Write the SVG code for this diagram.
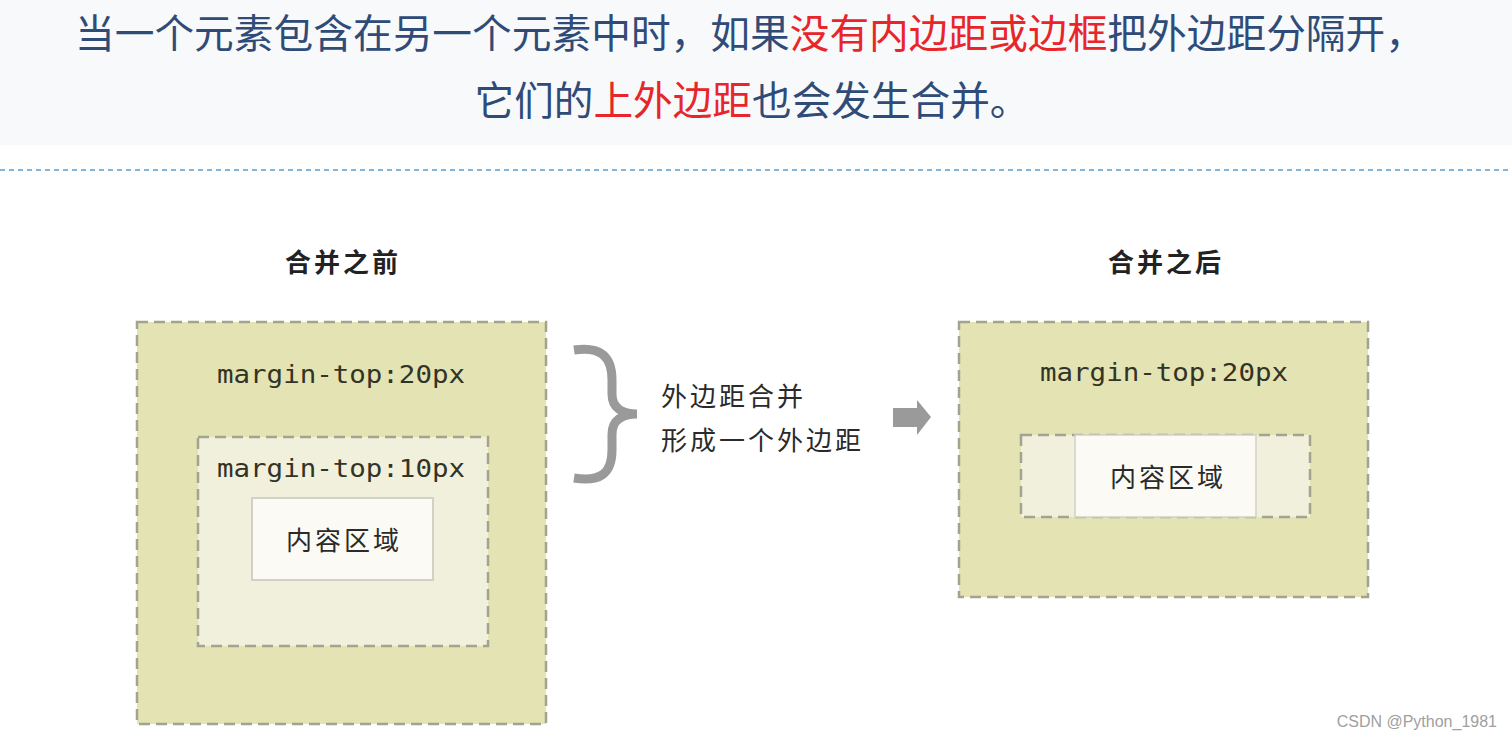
<svg xmlns="http://www.w3.org/2000/svg" width="1512" height="741" viewBox="0 0 1512 741">
<style>
.hd{font-family:"Noto Sans CJK SC","Liberation Sans",sans-serif;font-size:40px;fill:#2f4b78;}
.red{fill:#e8262a;}
.outer{fill:#e3e3b4;stroke:#a3a390;stroke-width:2.5;stroke-dasharray:11 6;}
.inner{fill:#f1f0dc;stroke:#a3a390;stroke-width:2.5;stroke-dasharray:11 6;}
.content{fill:#fbfaf5;stroke:#d2d1c6;stroke-width:2;}
.mono{font-family:"DejaVu Sans Mono","Liberation Mono",monospace;font-size:24px;fill:#333326;}
.cn{font-family:"Noto Sans CJK SC",sans-serif;font-size:26px;fill:#2a2a2a;letter-spacing:3px;}
.title{font-family:"Noto Sans CJK SC",sans-serif;font-size:26px;font-weight:bold;fill:#222;letter-spacing:3px;}
.gray{fill:#9a9a9a;}
</style>
<rect x="0" y="0" width="1512" height="741" fill="#ffffff"/>
<rect x="0" y="0" width="1512" height="145" fill="#f8f9fa"/>
<g id="heading">
<text class="hd" x="750" y="48" text-anchor="middle" textLength="1350" lengthAdjust="spacingAndGlyphs">当一个元素包含在另一个元素中时，如果<tspan class="red">没有内边距或边框</tspan>把外边距分隔开，</text>
<text class="hd" x="752" y="115" text-anchor="middle" textLength="555" lengthAdjust="spacingAndGlyphs">它们的<tspan class="red">上外边距</tspan>也会发生合并。</text>
</g>
<line x1="0" y1="170" x2="1512" y2="170" stroke="#5b9fd0" stroke-width="1.5" stroke-dasharray="5 4"/>
<g id="before">
<text class="title" x="343" y="272" text-anchor="middle">合并之前</text>
<rect class="outer" x="137" y="322" width="409" height="402"/>
<text class="mono" x="341" y="383" text-anchor="middle" textLength="248" lengthAdjust="spacingAndGlyphs">margin-top:20px</text>
<rect class="inner" x="198" y="437" width="290" height="209"/>
<text class="mono" x="341" y="477" text-anchor="middle" textLength="248" lengthAdjust="spacingAndGlyphs">margin-top:10px</text>
<rect class="content" x="252" y="498" width="181" height="82"/>
<text class="cn" x="344" y="550" text-anchor="middle">内容区域</text>
</g>
<g id="connectors">
<path d="M574,350 C600,346 612,356 612,380 L612,394 C612,408 622,414 637,414 C622,414 612,420 612,434 L612,450 C612,474 600,482 574,478" fill="none" stroke="#9a9a9a" stroke-width="9"/>
<polygon class="gray" points="893,408 917,408 917,400 931,417 917,435 917,427 893,427"/>
</g>
<g id="merge-label">
<text class="cn" x="661" y="406">外边距合并</text>
<text class="cn" x="661" y="450">形成一个外边距</text>
</g>
<g id="after">
<text class="title" x="1166" y="272" text-anchor="middle">合并之后</text>
<rect class="outer" x="959" y="322" width="409" height="275"/>
<text class="mono" x="1164" y="381" text-anchor="middle" textLength="248" lengthAdjust="spacingAndGlyphs">margin-top:20px</text>
<rect class="inner" x="1021" y="435" width="289" height="82"/>
<rect x="1075" y="435" width="181" height="82" fill="#fbfaf5" stroke="#d2d1c6" stroke-width="1.5"/>
<text class="cn" x="1168" y="487" text-anchor="middle">内容区域</text>
</g>
<text x="1497" y="727" text-anchor="end" font-family="Liberation Sans, sans-serif" font-size="16" fill="#a0a0a0">CSDN @Python_1981</text>
</svg>
